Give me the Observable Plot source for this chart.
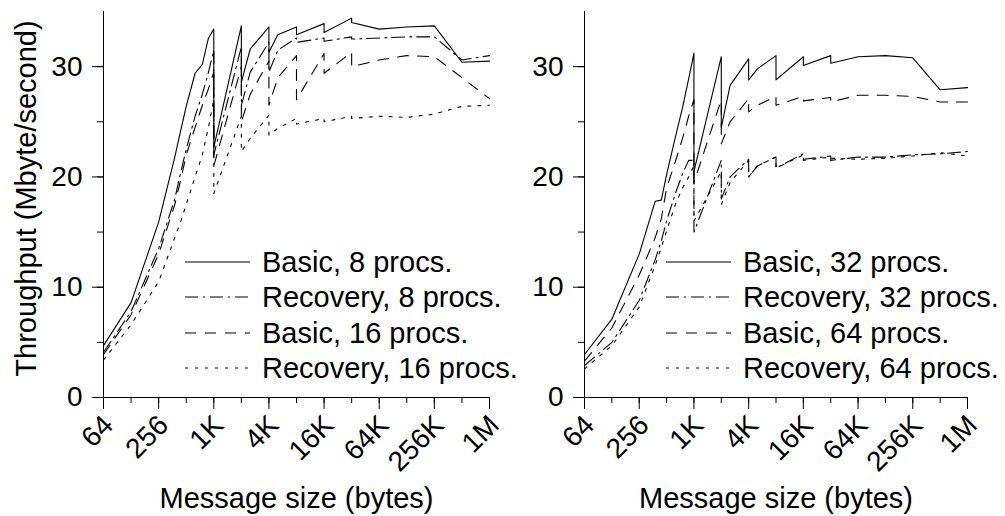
<!DOCTYPE html>
<html><head><meta charset="utf-8">
<script src="https://cdn.jsdelivr.net/npm/d3@7"></script>
<script src="https://cdn.jsdelivr.net/npm/@observablehq/plot@0.6"></script>
<style>
body{margin:0;background:#fff;}
#fig{position:relative;width:1005px;height:516px;display:flex;font-family:"Liberation Sans",Arial,sans-serif;}
#fig svg{display:block;}
#legend{position:absolute;left:0;top:0;pointer-events:none;}
</style></head><body><div id="fig"></div>
<script>
// ---- data ----
const sizes = [64,128,256,384,448,512,640,768,896,1024,1025,2048,2049,2560,4096,4097,5120,8192,8193,16384,16385,32768,32769,65536,131072,262144,524288,1048576];

const basic8     = [4.7,8.6,15.9,21.8,24.3,26.4,29.4,30.2,32.6,33.4,22.7,33.7,28.6,31.6,33.6,31.3,32.9,33.6,32.9,33.9,33.1,34.4,34.0,33.4,33.6,33.7,30.4,30.5];
const recovery8  = [4.1,7.8,13.5,18.0,20.5,22.5,25.5,27.5,29.5,31.5,22.0,31.8,26.5,29.5,32.2,29.5,31.5,32.6,32.2,32.6,32.3,32.7,32.5,32.6,32.7,32.7,30.6,31.0];
const basic16    = [3.9,7.5,13.0,17.5,19.8,22.0,24.5,26.5,28.0,29.5,21.0,30.0,25.0,27.5,30.5,26.5,29.0,31.0,27.0,31.2,29.4,31.3,30.0,30.6,31.0,30.9,29.0,27.1];
const recovery16 = [3.4,6.6,10.5,14.5,16.0,17.5,20.0,22.0,24.5,27.0,18.5,25.5,22.3,23.5,25.6,23.8,24.4,25.3,24.8,25.3,25.0,25.5,25.3,25.5,25.4,25.7,26.4,26.5];

const basic32    = [3.9,7.1,13.0,17.8,17.9,20.2,23.6,26.3,28.9,31.2,20.5,30.9,24.5,28.3,30.7,28.8,29.8,31.0,28.8,30.9,30.1,31.0,30.3,30.9,31.0,30.8,27.9,28.1];
const recovery32 = [2.9,5.0,8.8,12.5,14.2,16.0,18.5,20.3,21.5,21.5,15.0,21.5,18.0,20.0,21.6,20.0,21.0,21.8,20.8,22.1,21.6,21.9,21.5,21.8,21.8,22.0,22.1,22.3];
const basic64    = [3.3,6.3,11.1,14.5,16.2,19.0,21.4,23.5,25.5,27.0,19.5,27.0,23.0,25.0,27.1,25.9,26.5,27.3,26.5,27.3,26.9,27.2,26.8,27.4,27.4,27.3,26.8,26.8];
const recovery64 = [2.6,4.7,8.2,12.0,13.6,15.1,17.5,19.0,20.0,21.0,16.0,20.5,17.5,19.5,21.5,20.0,21.0,21.8,20.8,22.0,21.5,21.8,21.7,21.6,21.7,21.9,22.2,21.9];

const leftNames  = ["Basic, 8 procs.","Recovery, 8 procs.","Basic, 16 procs.","Recovery, 16 procs."];
const rightNames = ["Basic, 32 procs.","Recovery, 32 procs.","Basic, 64 procs.","Recovery, 64 procs."];

const xTickValues = [64,256,1024,4096,16384,65536,262144,1048576];
const xTickLabels = ["64","256","1K","4K","16K","64K","256K","1M"];
const xMinorTicks = [64,128,256,512,1024,2048,4096,8192,16384,32768,65536,131072,262144,524288,1048576];
const yTickValues = [0,10,20,30];
const yMinorTicks = [0,5,10,15,20,25,30];
const yMax = 35;
const xLabel = "Message size (bytes)";
const yLabel = "Throughput (Mbyte/second)";

// ---- styles ----
const dashes = [null, "13,5,2,5", "11,9", "3,7"];
const FONT = "Liberation Sans, Arial, sans-serif";

function panel(series, {width, marginLeft, marginRight, withYLabel}) {
  const marks = [];
  series.forEach((vals, i) => {
    const data = sizes.map((s, j) => ({x: s, y: vals[j]}));
    const opt = {x: "x", y: "y", stroke: "#000", strokeWidth: 1.1};
    if (dashes[i]) opt.strokeDasharray = dashes[i];
    marks.push(Plot.line(data, opt));
  });
  marks.push(
    Plot.ruleX([xTickValues[0]], {y1: 0, y2: yMax, stroke: "#000"}),
    Plot.ruleY([0], {x1: xTickValues[0], x2: xTickValues[xTickValues.length-1], stroke: "#000"}),
    Plot.axisX(xMinorTicks, {tickSize: 6, tickFormat: () => "", stroke: "#000", label: null}),
    Plot.axisX(xTickValues, {tickSize: 12, tickFormat: () => "", stroke: "#000", label: null}),
    Plot.axisX(xTickValues, {tickSize: 0, tickRotate: -45, tickPadding: 23, dx: 5, fontSize: 28,
      tickFormat: d => xTickLabels[xTickValues.indexOf(d)], fill: "#000", label: null}),
    Plot.axisY(yMinorTicks, {tickSize: 6, tickFormat: () => "", stroke: "#000", label: null}),
    Plot.axisY(yTickValues, {tickSize: 11, tickPadding: 10, fontSize: 28, fill: "#000", stroke: "#000", label: null}),
    Plot.text([xLabel], {text: d => d, frameAnchor: "bottom", lineAnchor: "bottom", dy: 110, fontSize: 29, fill: "#000"})
  );
  if (withYLabel) {
    marks.push(Plot.text([yLabel], {text: d => d, frameAnchor: "left", textAnchor: "middle", rotate: -90, lineAnchor: "middle", dx: -77, dy: -6, fontSize: 29, fill: "#000"}));
  }
  return Plot.plot({
    width, height: 516, marginTop: 11, marginBottom: 119, marginLeft, marginRight,
    style: {fontFamily: FONT, background: "#fff", color: "#000", overflow: "visible"},
    x: {type: "log", base: 2, domain: [64, 1048576]},
    y: {domain: [0, yMax]},
    marks
  });
}

const fig = document.getElementById("fig");
fig.appendChild(panel([basic8, recovery8, basic16, recovery16], {width: 502, marginLeft: 103, marginRight: 13, withYLabel: true}));
fig.appendChild(panel([basic32, recovery32, basic64, recovery64], {width: 503, marginLeft: 82, marginRight: 38, withYLabel: false}));

// ---- legends (overlay) ----
const leg = d3.select(fig).append("svg").attr("id", "legend").attr("width", 1005).attr("height", 516)
  .style("font-family", FONT).style("font-size", "29px");
function legend(names, x0) {
  const rowsY = [262, 297, 333, 368];
  names.forEach((n, i) => {
    const l = leg.append("line").attr("x1", x0).attr("x2", x0 + 65).attr("y1", rowsY[i]).attr("y2", rowsY[i])
      .attr("stroke", "#000").attr("stroke-width", 1.1);
    if (dashes[i]) l.attr("stroke-dasharray", dashes[i]);
    leg.append("text").attr("x", x0 + 77).attr("y", rowsY[i] + 10).attr("fill", "#000").text(n);
  });
}
legend(leftNames, 185);
legend(rightNames, 666);
</script></body></html>
